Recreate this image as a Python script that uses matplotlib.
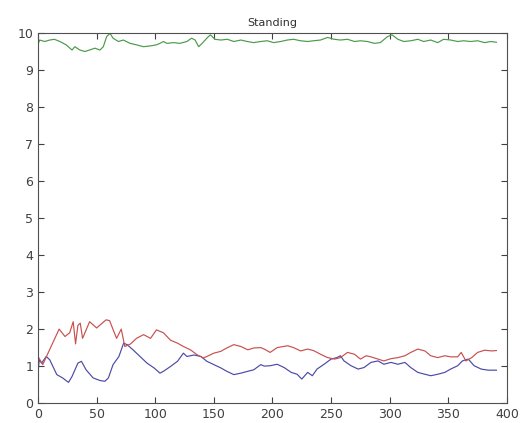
import matplotlib.pyplot as plt

# amostras (indice, valor)
t_red = [0, 4, 18, 23, 27, 30, 32, 34, 36, 38, 44, 50, 58, 61, 67, 71, 74, 79, 84, 90,
         96, 101, 107, 113, 119, 124, 130, 136, 141, 144, 150, 156, 161, 167, 173, 179,
         184, 190, 193, 198, 204, 213, 218, 224, 230, 235, 241, 247, 253, 258, 264, 270,
         275, 280, 284, 290, 295, 301, 307, 313, 318, 324, 330, 335, 341, 347, 352, 358,
         361, 365, 370, 375, 381, 387, 391]
v_red = [1.26, 1.04, 2.0, 1.8, 1.9, 2.2, 1.6, 2.1, 2.16, 1.75, 2.2, 2.03, 2.25, 2.23, 1.75,
         2.0, 1.53, 1.6, 1.75, 1.85, 1.75, 1.98, 1.9, 1.7, 1.62, 1.53, 1.44, 1.3, 1.22, 1.26,
         1.35, 1.4, 1.49, 1.58, 1.53, 1.44, 1.49, 1.5, 1.46, 1.37, 1.5, 1.55, 1.5, 1.41, 1.46,
         1.42, 1.32, 1.23, 1.19, 1.23, 1.37, 1.32, 1.19, 1.28, 1.25, 1.19, 1.14, 1.2, 1.23,
         1.28, 1.37, 1.46, 1.41, 1.28, 1.23, 1.28, 1.25, 1.25, 1.37, 1.14, 1.23, 1.37, 1.43,
         1.41, 1.42]

t_blue = [0, 1, 3, 7, 10, 16, 21, 26, 29, 34, 37, 41, 47, 53, 57, 60, 64, 69, 73, 76, 81,
          87, 93, 99, 104, 107, 113, 119, 124, 127, 133, 139, 144, 150, 156, 161, 167, 173,
          179, 184, 190, 193, 198, 204, 210, 216, 221, 225, 230, 234, 238, 244, 250, 255,
          258, 261, 267, 273, 278, 284, 290, 295, 301, 307, 313, 318, 324, 330, 335, 341,
          347, 352, 358, 362, 367, 372, 378, 384, 391]
v_blue = [0.81, 1.17, 1.08, 1.26, 1.17, 0.77, 0.68, 0.56, 0.72, 1.08, 1.13, 0.9, 0.68, 0.61,
          0.59, 0.68, 1.04, 1.26, 1.62, 1.58, 1.44, 1.26, 1.08, 0.95, 0.81, 0.86, 0.99, 1.13,
          1.35, 1.26, 1.3, 1.26, 1.13, 1.04, 0.95, 0.86, 0.77, 0.81, 0.86, 0.9, 1.04, 1.0,
          1.01, 1.05, 0.96, 0.83, 0.78, 0.65, 0.83, 0.74, 0.92, 1.05, 1.19, 1.23, 1.28, 1.14,
          1.01, 0.92, 0.96, 1.1, 1.14, 1.05, 1.1, 1.05, 1.1, 0.96, 0.83, 0.78, 0.74, 0.78,
          0.83, 0.92, 1.01, 1.14, 1.19, 1.01, 0.92, 0.89, 0.89]

t_green = [0, 1.4, 5.7, 10, 14, 18.6, 24, 29, 31.4, 35.7, 40, 44, 48.5, 52.8, 55.7, 58.5,
           61.4, 64, 68.5, 72.8, 78.5, 84, 90, 95.6, 101, 104, 107, 110, 115.6, 121, 127,
           131, 134, 137, 140, 144, 147, 151, 156, 161.5, 167, 173, 178.5, 184, 190, 195.5,
           201, 207, 212.6, 218, 224, 230, 235, 241, 247, 252.6, 258, 264, 270, 275, 281,
           287, 292, 298, 302, 307, 312, 318, 324, 329, 335, 341, 346, 352, 358, 363, 369,
           375, 381, 386, 391]
v_green = [9.7, 9.81, 9.77, 9.81, 9.83, 9.77, 9.68, 9.54, 9.63, 9.54, 9.5, 9.54, 9.59, 9.54,
           9.63, 9.9, 9.99, 9.86, 9.77, 9.81, 9.72, 9.68, 9.63, 9.65, 9.68, 9.72, 9.77, 9.72,
           9.74, 9.72, 9.77, 9.86, 9.81, 9.63, 9.72, 9.86, 9.95, 9.83, 9.81, 9.83, 9.77, 9.81,
           9.77, 9.74, 9.77, 9.79, 9.74, 9.77, 9.81, 9.83, 9.79, 9.77, 9.79, 9.81, 9.88, 9.83,
           9.81, 9.83, 9.77, 9.79, 9.77, 9.72, 9.74, 9.9, 9.95, 9.83, 9.77, 9.79, 9.83, 9.77,
           9.81, 9.74, 9.83, 9.81, 9.77, 9.79, 9.77, 9.79, 9.74, 9.77, 9.75]

x_ticks = [0, 50, 100, 150, 200, 250, 300, 350, 400]
y_ticks = list(range(0, 11))

fig = plt.figure(figsize=(5.21, 4.23), dpi=100)
ax = fig.add_axes([0.073, 0.047, 0.9, 0.875])

ax.plot(t_blue, v_blue, color="#4a4aa8", lw=0.85)
ax.plot(t_green, v_green, color="#4a9a4a", lw=0.85)
ax.plot(t_red, v_red, color="#c85050", lw=0.85)

ax.set_xlim(0, 400)
ax.set_ylim(0, 10)
ax.set_xticks(x_ticks)
ax.set_yticks(y_ticks)
ax.tick_params(direction="in", top=True, right=True, length=4, labelsize=9, colors="#404040")
for s in ax.spines.values():
    s.set_color("#505050")
ax.set_title("Standing", fontsize=8, pad=5, color="#303030")

fig.savefig("out.png", dpi=100)
